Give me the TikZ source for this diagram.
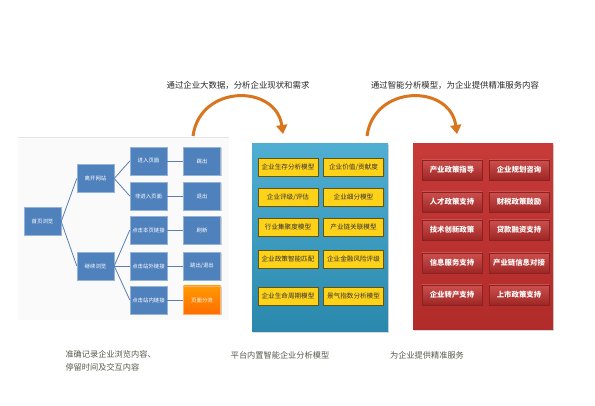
\documentclass[tikz,border=0pt]{standalone}
\usepackage{fontspec}
\setmainfont{Noto Sans CJK SC}
\usetikzlibrary{arrows.meta,shadows}
\definecolor{treeblue}{HTML}{4F81BD}
\definecolor{treeline}{HTML}{5B7FB3}
\definecolor{panelblue}{HTML}{31A0CB}
\definecolor{panelred}{HTML}{C4302E}
\definecolor{modelyellow}{HTML}{FFD21A}
\definecolor{arcorange}{HTML}{D9751F}
\definecolor{notegray}{HTML}{55584A}
\begin{document}
\begin{tikzpicture}[x=1pt,y=-1pt,
  treebox/.style={draw=treeblue!60!white,fill=treeblue,text=white,minimum width=37pt,minimum height=28pt,inner sep=0pt,font=\fontsize{5.4}{6.5}\selectfont,drop shadow={opacity=0.35,shadow xshift=1pt,shadow yshift=-1pt}},
  linkline/.style={draw=treeline,line width=0.8pt},
  modelbox/.style={draw=black!60!modelyellow,fill=modelyellow,text=black!80,minimum width=60pt,minimum height=18pt,inner sep=0pt,font=\fontsize{6.6}{7.5}\selectfont,drop shadow={opacity=0.4,shadow xshift=1pt,shadow yshift=-1pt}},
  servicebox/.style={draw=panelred!70!black,top color=panelred!85!white,bottom color=panelred!80!black,text=white,minimum width=60pt,minimum height=20pt,inner sep=0pt,font=\fontsize{7.4}{8.5}\selectfont\bfseries,drop shadow={opacity=0.4,shadow xshift=1pt,shadow yshift=-1pt}},
  bigarc/.style={draw=arcorange,line width=3pt,-{Triangle[length=9pt,width=11pt]}},
  note/.style={text=notegray,font=\fontsize{8.2}{13}\selectfont,align=left}]
\useasboundingbox (0,0) rectangle (595,406);
% left: browsing records
\fill[gray!4] (18,137) rectangle (229,320);
\draw[gray!20] (18,137) -- (229,137);
\node[treebox] (home) at (42.5,221.5) {首页浏览};
\node[treebox] (leave) at (95.5,178.5) {离开网站};
\node[treebox] (stay) at (95.5,266) {继续浏览};
\foreach \y/\a/\b [count=\i] in {161/进入页面/跳出,196/非进入页面/退出,230/点击本页链接/刷新,266/点击站外链接/{跳出/退出}}{
  \node[treebox] (page\i) at (148.5,\y) {\a};
  \node[treebox] (exit\i) at (202,\y) {\b};
}
\node[treebox] (page5) at (148.5,300) {点击站内链接};
\node[treebox,top color=orange!80!yellow,bottom color=orange!85!red,draw=orange!60!white] (exit5) at (202,300) {页面分流};
\draw[linkline] (home.east) -- (leave.west);
\draw[linkline] (home.east) -- (stay.west);
\draw[linkline] (leave.east) -- (page1.west);
\draw[linkline] (leave.east) -- (page2.west);
\foreach \i in {3,4,5}
\draw[linkline] (stay.east) -- (page\i.west);
\foreach \i in {1,...,5}
\draw[linkline] (page\i.east) -- (exit\i.west);
% middle: analysis models
\node[top color=panelblue!85!white,bottom color=panelblue!85!black,minimum width=136pt,minimum height=188pt,drop shadow={opacity=0.3,shadow xshift=1pt,shadow yshift=-1pt}] (models) at (320,238) {};
\foreach \x/\y/\t [count=\i] in {288/167/企业生存分析模型,353.5/167/{企业价值/贡献度},288/197/{企业评级/评估},353.5/197/企业细分模型,288/227/行业集聚度模型,353.5/227/产业链关联模型,288/259/企业政策智能匹配,353.5/259/企业金融风险评级,288/296/企业生命周期模型,353.5/296/景气指数分析模型}
\node[modelbox] (model\i) at (\x,\y) {\t};
% right: services
\node[top color=panelred!95!white,bottom color=panelred!90!black,minimum width=140pt,minimum height=186pt,drop shadow={opacity=0.3,shadow xshift=1pt,shadow yshift=-1pt}] (services) at (483,237) {};
\foreach \x/\y/\t [count=\i] in {452/170/产业政策指导,519/170/企业规划咨询,452/202/人才政策支持,519/202/财税政策鼓励,452/230/技术创新政策,519/230/贷款融资支持,452/263/信息服务支持,519/263/产业链信息对接,452/295/企业转产支持,519/295/上市政策支持}
\node[servicebox] (service\i) at (\x,\y) {\t};
% top: arcs and captions
\node[font=\fontsize{8.4}{10}\selectfont,text=black!85] (step1) at (238,85) {通过企业大数据，分析企业现状和需求};
\node[font=\fontsize{8.4}{10}\selectfont,text=black!85] (step2) at (455,85) {通过智能分析模型，为企业提供精准服务内容};
\coordinate (arc1s) at (193,136);
\coordinate (arc1e) at (283,134);
\coordinate (arc2s) at (367,136);
\coordinate (arc2e) at (457,134);
\draw[bigarc] (arc1s) .. controls (200,84) and (276,84) .. (arc1e);
\draw[bigarc] (arc2s) .. controls (374,84) and (450,84) .. (arc2e);
% bottom captions
\node[note,anchor=north west] (note1) at (62,347) {准确记录企业浏览内容、\\停留时间及交互内容};
\node[note] (note2) at (280,355) {平台内置智能企业分析模型};
\node[note] (note3) at (427,355) {为企业提供精准服务};
\end{tikzpicture}
\end{document}
